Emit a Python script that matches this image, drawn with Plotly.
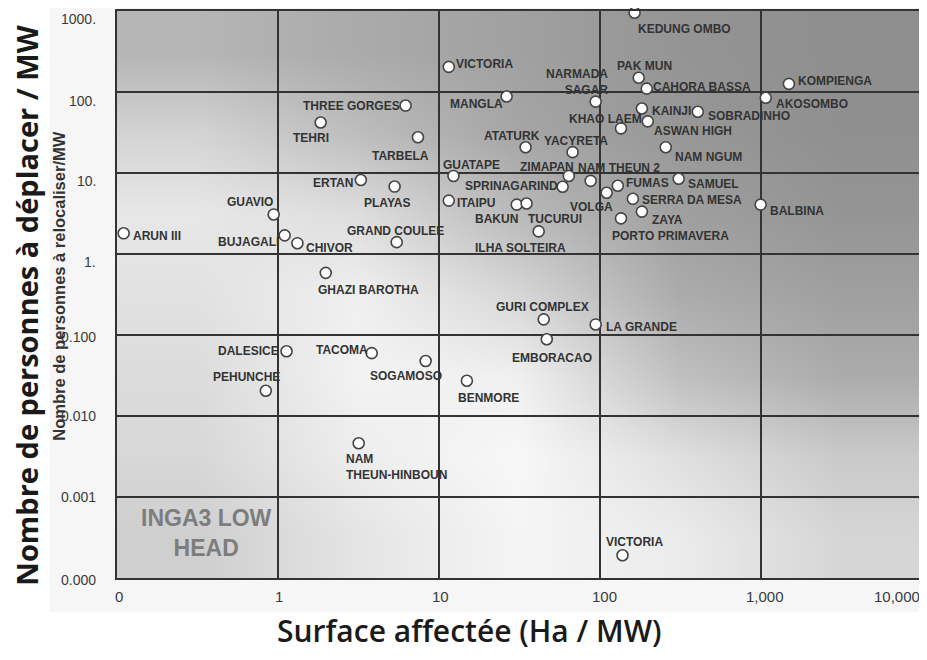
import base64
import struct
import zlib

import numpy as np
import plotly.graph_objects as go

# ---------------- data ----------------
names = [
    "KEDUNG OMBO", "VICTORIA", "PAK MUN", "CAHORA BASSA", "KOMPIENGA", "AKOSOMBO",
    "NARMADA<br>SAGAR", "MANGLA", "THREE GORGES", "TEHRI", "TARBELA", "KAINJI",
    "SOBRADINHO", "KHAO LAEM", "ASWAN HIGH", "ATATURK", "YACYRETA", "NAM NGUM",
    "GUATAPE", "ZIMAPAN", "NAM THEUN 2", "SPRINAGARIND", "ERTAN", "PLAYAS",
    "FUMAS", "SAMUEL", "VOLGA", "SERRA DA MESA", "ITAIPU", "BAKUN", "TUCURUI",
    "ILHA SOLTEIRA", "GRAND COULEE", "CHIVOR", "BUJAGALI", "GUAVIO", "ARUN III",
    "PORTO PRIMAVERA", "ZAYA", "BALBINA", "GHAZI BAROTHA", "GURI COMPLEX",
    "LA GRANDE", "EMBORACAO", "DALESICE", "TACOMA", "SOGAMOSO", "PEHUNCHE",
    "BENMORE", "NAM<br>THEUN-HINBOUN", "VICTORIA",
]
area_ha_per_mw = [
    164, 11.5, 174, 195, 1490, 1070,
    94, 26.3, 6.2, 1.84, 7.4, 182,
    405, 135, 198, 34.5, 67.6, 256,
    12.3, 64, 87.5, 58.6, 3.27, 5.3,
    129, 308, 110, 160, 11.5, 30.4, 35,
    41.6, 5.46, 1.32, 1.10, 0.94, 0.110,
    135, 182, 995, 1.98, 44.7,
    94, 46.7, 1.13, 3.82, 8.26, 0.84,
    14.9, 3.17, 138,
]
people_per_mw = [
    950, 204, 150, 110, 126, 85,
    76, 88, 68, 42, 27.6, 62.5,
    57, 35.6, 43.4, 20.8, 18.1, 20.8,
    9.2, 9.2, 8.0, 6.76, 8.2, 6.8,
    6.95, 8.5, 5.7, 4.8, 4.56, 4.07, 4.2,
    1.9, 1.40, 1.36, 1.70, 3.08, 1.80,
    2.75, 3.34, 4.07, 0.585, 0.156,
    0.135, 0.0885, 0.063, 0.0597, 0.0477, 0.0205,
    0.0272, 0.00461, 0.000191,
]
x_tick_vals = [0.1, 1, 10, 100, 1000, 10000]
x_tick_text = ["0", "1", "10", "100", "1,000", "10,000"]
y_tick_vals = [1000, 100, 10, 1, 0.1, 0.01, 0.001, 0.0001]
y_tick_text = ["1000.", "100.", "10.", "1.", "0.100", "0.010", "0.001", "0.000"]

# ---------------- label placement (style, px offsets) ----------------
label_pos = [
    ("left", 3, -16), ("left", 7, 3), ("center", 6, 12), ("left", 6, 2), ("left", 9, 3), ("left", 10, -6),
    ("right", 12, 20), ("right", -4, -7), ("right", -6, 0), ("center", -10, -15), ("center", -17, -19), ("left", 10, -2),
    ("left", 10, -4), ("center", -15, 9), ("left", 6, -10), ("center", -14, 11), ("center", 3, 11), ("left", 9, -10),
    ("center", 18, 11), ("right", 5, 9), ("left", -13, 13), ("right", -5, 1), ("right", -8, -3), ("center", -8, -16),
    ("left", 8, 3), ("left", 9, -5), ("center", -15, -14), ("left", 9, -1), ("left", 8, -2), ("center", -20, -14), ("center", 28, -15),
    ("center", -18, -17), ("center", -1, 11), ("left", 9, -5), ("right", -6, -7), ("center", -24, 12), ("left", 9, -3),
    ("left", -9, -18), ("left", 10, -8), ("left", 9, -6), ("left", -8, -17), ("center", -1, 12),
    ("left", 10, -3), ("center", 5, -19), ("right", -8, 0), ("right", -4, 3), ("center", -20, -15), ("center", -19, 14),
    ("left", -9, -17), ("left", -13, -24), ("center", 12, 13),
]
x_tick_shift = [2, 1, 1, 4, 4, 0]
y_tick_shift = [-8, -9, -8, -8, -2, 0, 0, -2]

# ---------------- background gradient (style) ----------------
bg_cells = np.array([
    [182, 171, 161, 149, 143],
    [212, 190, 166, 152, 144],
    [232, 222, 186, 160, 149],
    [226, 240, 215, 172, 160],
    [220, 243, 240, 192, 172],
    [216, 238, 248, 224, 202],
    [207, 229, 245, 236, 214],
], dtype=float)


def gradient_png(cells, per=40):
    nr, nc = cells.shape
    W, H = nc * per, nr * per
    u = np.clip((np.arange(W) + 0.5) / per - 0.5, 0, nc - 1)
    v = np.clip((np.arange(H) + 0.5) / per - 0.5, 0, nr - 1)
    tmp = np.array([np.interp(u, np.arange(nc), cells[r]) for r in range(nr)])
    img = np.array([np.interp(v, np.arange(nr), tmp[:, c]) for c in range(W)]).T
    img = np.clip(img, 0, 255).astype(np.uint8)
    raw = b"".join(b"\x00" + img[r].tobytes() for r in range(H))

    def chunk(t, d):
        c = struct.pack(">I", len(d)) + t + d
        return c + struct.pack(">I", zlib.crc32(t + d) & 0xFFFFFFFF)

    png = (b"\x89PNG\r\n\x1a\n"
           + chunk(b"IHDR", struct.pack(">IIBBBBB", W, H, 8, 0, 0, 0, 0))
           + chunk(b"IDAT", zlib.compress(raw, 9))
           + chunk(b"IEND", b""))
    return "data:image/png;base64," + base64.b64encode(png).decode()


bg_src = gradient_png(bg_cells)

LABEL_FONT = dict(family="Liberation Sans, Arial, sans-serif", size=12, color="#333333", weight="bold")
XTICK_FONT = dict(family="Liberation Sans, Arial, sans-serif", size=15, color="#3a3a3a")
YTICK_FONT = dict(family="Liberation Sans, Arial, sans-serif", size=14, color="#3a3a3a")

fig = go.Figure()
fig.add_trace(go.Scatter(
    x=area_ha_per_mw, y=people_per_mw, mode="markers",
    marker=dict(symbol="circle", size=11, color="white", line=dict(color="#444444", width=1.6)),
    cliponaxis=False, hoverinfo="skip", showlegend=False,
))

annotations = []
for name, xv, yv, (anc, dx, dy) in zip(names, area_ha_per_mw, people_per_mw, label_pos):
    annotations.append(dict(
        x=np.log10(xv), y=np.log10(yv), xref="x", yref="y", text=name, showarrow=False,
        xanchor=anc, yanchor="middle", xshift=dx, yshift=dy, align=anc,
        font=LABEL_FONT, borderpad=0, borderwidth=0,
    ))

# INGA3 LOW HEAD
annotations.append(dict(
    x=-0.443, y=-3.449, xref="x", yref="y", text="INGA3 LOW<br>HEAD", showarrow=False,
    xanchor="center", yanchor="middle",
    font=dict(family="Liberation Sans, Arial, sans-serif", size=23, color="#7d7d7d", weight="bold"),
))

# tick labels
for v, t, s in zip(x_tick_vals, x_tick_text, x_tick_shift):
    last = v == x_tick_vals[-1]
    annotations.append(dict(
        x=np.log10(v), y=-0.0334, xref="x", yref="paper", text=t, showarrow=False,
        xanchor="right" if last else "center", yanchor="middle", xshift=s, font=XTICK_FONT,
    ))
for v, t, s in zip(y_tick_vals, y_tick_text, y_tick_shift):
    annotations.append(dict(
        x=-0.024, y=np.log10(v), xref="paper", yref="y", text=t, showarrow=False,
        xanchor="right", yanchor="middle", yshift=s, font=YTICK_FONT,
    ))

# axis titles
annotations.append(dict(
    x=-0.1122, y=0.4815, xref="paper", yref="paper", text="Nombre de personnes à déplacer / MW",
    showarrow=False, textangle=-90, xanchor="center", yanchor="middle",
    font=dict(family="Open Sans, sans-serif", size=29, color="#1a1a1a", weight="bold"),
))
annotations.append(dict(
    x=-0.0724, y=0.515, xref="paper", yref="paper", text="Nombre de personnes à relocaliser/MW",
    showarrow=False, textangle=-90, xanchor="center", yanchor="middle",
    font=dict(family="Liberation Sans, Arial, sans-serif", size=16.5, color="#333333", weight="bold"),
))
annotations.append(dict(
    x=0.438, y=-0.0931, xref="paper", yref="paper", text="Surface affectée (Ha / MW)",
    showarrow=False, xanchor="center", yanchor="middle",
    font=dict(family="Open Sans, sans-serif", size=30, color="#1a1a1a", weight=600),
))

axis_common = dict(
    type="log", showgrid=True, gridcolor="#333333", gridwidth=1.5, showticklabels=False,
    ticks="", showline=True, linecolor="#333333", linewidth=2, mirror=True, zeroline=False,
    fixedrange=True,
)

fig.update_layout(
    width=919, height=644,
    margin=dict(l=109, r=5, t=1, b=74),
    paper_bgcolor="white", plot_bgcolor="rgba(0,0,0,0)",
    xaxis=dict(range=[-1, 4], tickvals=x_tick_vals, **axis_common),
    yaxis=dict(range=[-4, 3], tickvals=y_tick_vals, **axis_common),
    images=[dict(
        source=bg_src, xref="x", yref="y", x=-1, y=3, sizex=5, sizey=7,
        xanchor="left", yanchor="top", sizing="stretch", layer="below",
    )],
    shapes=[dict(
        type="rect", xref="paper", yref="paper", x0=-0.0836, x1=1.01, y0=-0.0598, y1=1.02,
        fillcolor="#f6f6f6", line=dict(width=0), layer="below",
    )],
    annotations=annotations,
    showlegend=False,
)

fig.write_html("out.html")
